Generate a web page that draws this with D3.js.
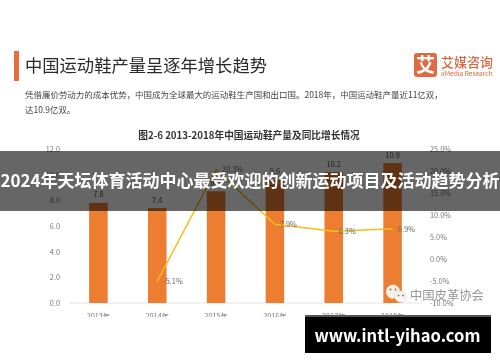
<!DOCTYPE html>
<html><head><meta charset="utf-8">
<script src="https://cdn.jsdelivr.net/npm/d3@7"></script>
<style>
html,body{margin:0;padding:0;background:#fff}
svg{display:block}
text{font-family:"Noto Sans CJK SC","Noto Sans",sans-serif}
.blur{filter:blur(.45px)}
</style></head><body><svg id="c" width="500" height="362"></svg>
<script>
const years=["2013年","2014年","2015年","2016年","2017年","2018年"];
const output=[7.8,7.4,8.7,9.6,10.2,10.9];
const growthYears=["2014年","2015年","2016年","2017年","2018年"];
const growth=[-5.1,20.3,7.9,6.3,6.9];
const leftTicks=[0,2,4,6,8,10,12];
const rightTicks=[-10,-5,0,5,10,15,20,25];
const pageTitle="中国运动鞋产量呈逐年增长趋势";
const bodyLines=["凭借廉价劳动力的成本优势，中国成为全球最大的运动鞋生产国和出口国。2018年，中国运动鞋产量近11亿双，","达10.9亿双。"];
const chartTitle="图2-6 2013-2018年中国运动鞋产量及同比增长情况";
const bannerText="2024年天坛体育活动中心最受欢迎的创新运动项目及活动趋势分析";
const footerText="www.intl-yihao.com";
const watermarkText="中国皮革协会";

const svg=d3.select("#c");
const defs=svg.append("defs");
defs.append("clipPath").attr("id","crop").append("rect").attr("x",0).attr("y",0).attr("width",500).attr("height",317);
const page=svg.append("g").attr("class","blur").attr("clip-path","url(#crop)");

const x=d3.scaleBand().domain(years).range([69,422]).paddingInner(.685).paddingOuter(.3425);
const yL=d3.scaleLinear().domain([0,12]).range([303,149]);
const yR=d3.scaleLinear().domain([-10,25]).range([303,149]);

// header
page.append("rect").attr("x",14).attr("y",51).attr("width",5).attr("height",30).attr("fill","#e96c3c");
page.append("text").attr("x",25).attr("y",71.5).attr("font-size",17.3).attr("fill","#2a2a2a").text(pageTitle);
page.selectAll("text.body").data(bodyLines).join("text").attr("class","body")
  .attr("x",25).attr("y",(d,i)=>97.5+i*15.5).attr("font-size",8.47).attr("fill","#444").text(d=>d);
page.append("text").attr("x",249).attr("y",138.5).attr("text-anchor","middle").attr("font-size",9.7)
  .attr("font-weight",700).attr("fill","#333").text(chartTitle);

// logo
page.append("rect").attr("x",414).attr("y",53).attr("width",23).attr("height",24).attr("rx",3).attr("fill","#dd6a42");
page.append("text").attr("x",425.5).attr("y",71.5).attr("text-anchor","middle").attr("font-size",19).attr("font-weight",700).attr("fill","#fff").text("艾");
page.append("text").attr("x",441).attr("y",67).attr("font-size",13).attr("font-weight",500).attr("fill","#d9683f").text("艾媒咨询");
page.append("text").attr("x",441).attr("y",76).attr("font-size",6.6).attr("fill","#d9683f").text("iiMedia Research");

// axes
const tickFont='"Open Sans","Noto Sans CJK SC",sans-serif';
const axL=d3.axisLeft(yL).tickValues(leftTicks).tickFormat(d3.format(".1f")).tickSize(0).tickPadding(0);
const gL=page.append("g").attr("transform","translate(60,0)").call(axL);
const axR=d3.axisRight(yR).tickValues(rightTicks).tickFormat(d=>d.toFixed(1)+"%").tickSize(0).tickPadding(0);
const gR=page.append("g").attr("transform","translate(430,0)").call(axR);
const axB=d3.axisBottom(x).tickSize(0).tickPadding(0);
const gB=page.append("g").attr("transform","translate(0,303)").call(axB);
gB.selectAll("text").attr("dy",null).attr("y",16);
[gL,gR,gB].forEach(g=>{g.select(".domain").remove();g.selectAll("text").attr("font-size",7.3).attr("fill","#777").attr("font-family",tickFont);});
page.append("line").attr("x1",x.range()[0]).attr("x2",x.range()[1]).attr("y1",yL(0)).attr("y2",yL(0)).attr("stroke","#e4e4e4");

// bars
page.selectAll("rect.bar").data(output).join("rect").attr("class","bar")
  .attr("x",(d,i)=>x(years[i])).attr("width",x.bandwidth())
  .attr("y",d=>yL(d)).attr("height",d=>yL(0)-yL(d)).attr("fill","#ed7d31");
page.selectAll("text.barv").data(output).join("text").attr("class","barv")
  .attr("x",(d,i)=>x(years[i])+x.bandwidth()/2).attr("y",d=>yL(d)-5.5)
  .attr("text-anchor","middle").attr("font-size",7.5).attr("fill","#555").attr("font-family",tickFont)
  .text(d=>d.toFixed(1));

// line
const cx=d=>x(d)+x.bandwidth()/2;
const line=d3.line().x((d,i)=>cx(growthYears[i])).y(d=>yR(d));
page.append("path").datum(growth).attr("d",line).attr("fill","none").attr("stroke","#f5bd22").attr("stroke-width",1.5);
const lblDx=[6,6,5,5,5.5], lblDy=[3,2,3,3,3];
page.selectAll("text.linev").data(growth).join("text").attr("class","linev")
  .attr("x",(d,i)=>cx(growthYears[i])+lblDx[i]).attr("y",(d,i)=>yR(d)+lblDy[i])
  .attr("font-size",7.3).attr("fill","#666").attr("font-family",tickFont)
  .text(d=>d.toFixed(1)+"%");

// watermark
const wm=page.append("g");
wm.append("circle").attr("cx",393).attr("cy",291.7).attr("r",7).attr("fill","#f4efe8").attr("stroke","#c8c0b4").attr("stroke-width",.4);
wm.append("circle").attr("cx",400.7).attr("cy",296.7).attr("r",5.8).attr("fill","#faf7f2").attr("stroke","#c8c0b4").attr("stroke-width",.4);
wm.selectAll("circle.eye").data([[390.5,289.5],[395.5,289.5],[398.5,295.5],[403,295.5]]).join("circle").attr("class","eye")
  .attr("cx",d=>d[0]).attr("cy",d=>d[1]).attr("r",.9).attr("fill","#8a6a4a");
wm.append("text").attr("x",410).attr("y",300).attr("font-size",12.3).attr("fill","#8c8c8c").attr("fill-opacity",.9).text(watermarkText);

// banner
svg.append("rect").attr("x",0).attr("y",151).attr("width",500).attr("height",60).attr("fill","#000").attr("fill-opacity",.6);
svg.append("text").attr("x",250).attr("y",187).attr("text-anchor","middle").attr("font-size",17).attr("font-weight",700).attr("fill","#fff").text(bannerText);

// footer
svg.append("rect").attr("x",305).attr("y",315).attr("width",186).attr("height",38).attr("fill","#000");
svg.append("rect").attr("x",305).attr("y",315).attr("width",186).attr("height",2).attr("fill","#555");
svg.append("text").attr("x",397.5).attr("y",342).attr("text-anchor","middle").attr("font-size",16.6).attr("font-weight",700).attr("fill","#fff")
  .attr("font-family",'"DejaVu Sans",sans-serif').text(footerText);
</script></body></html>
